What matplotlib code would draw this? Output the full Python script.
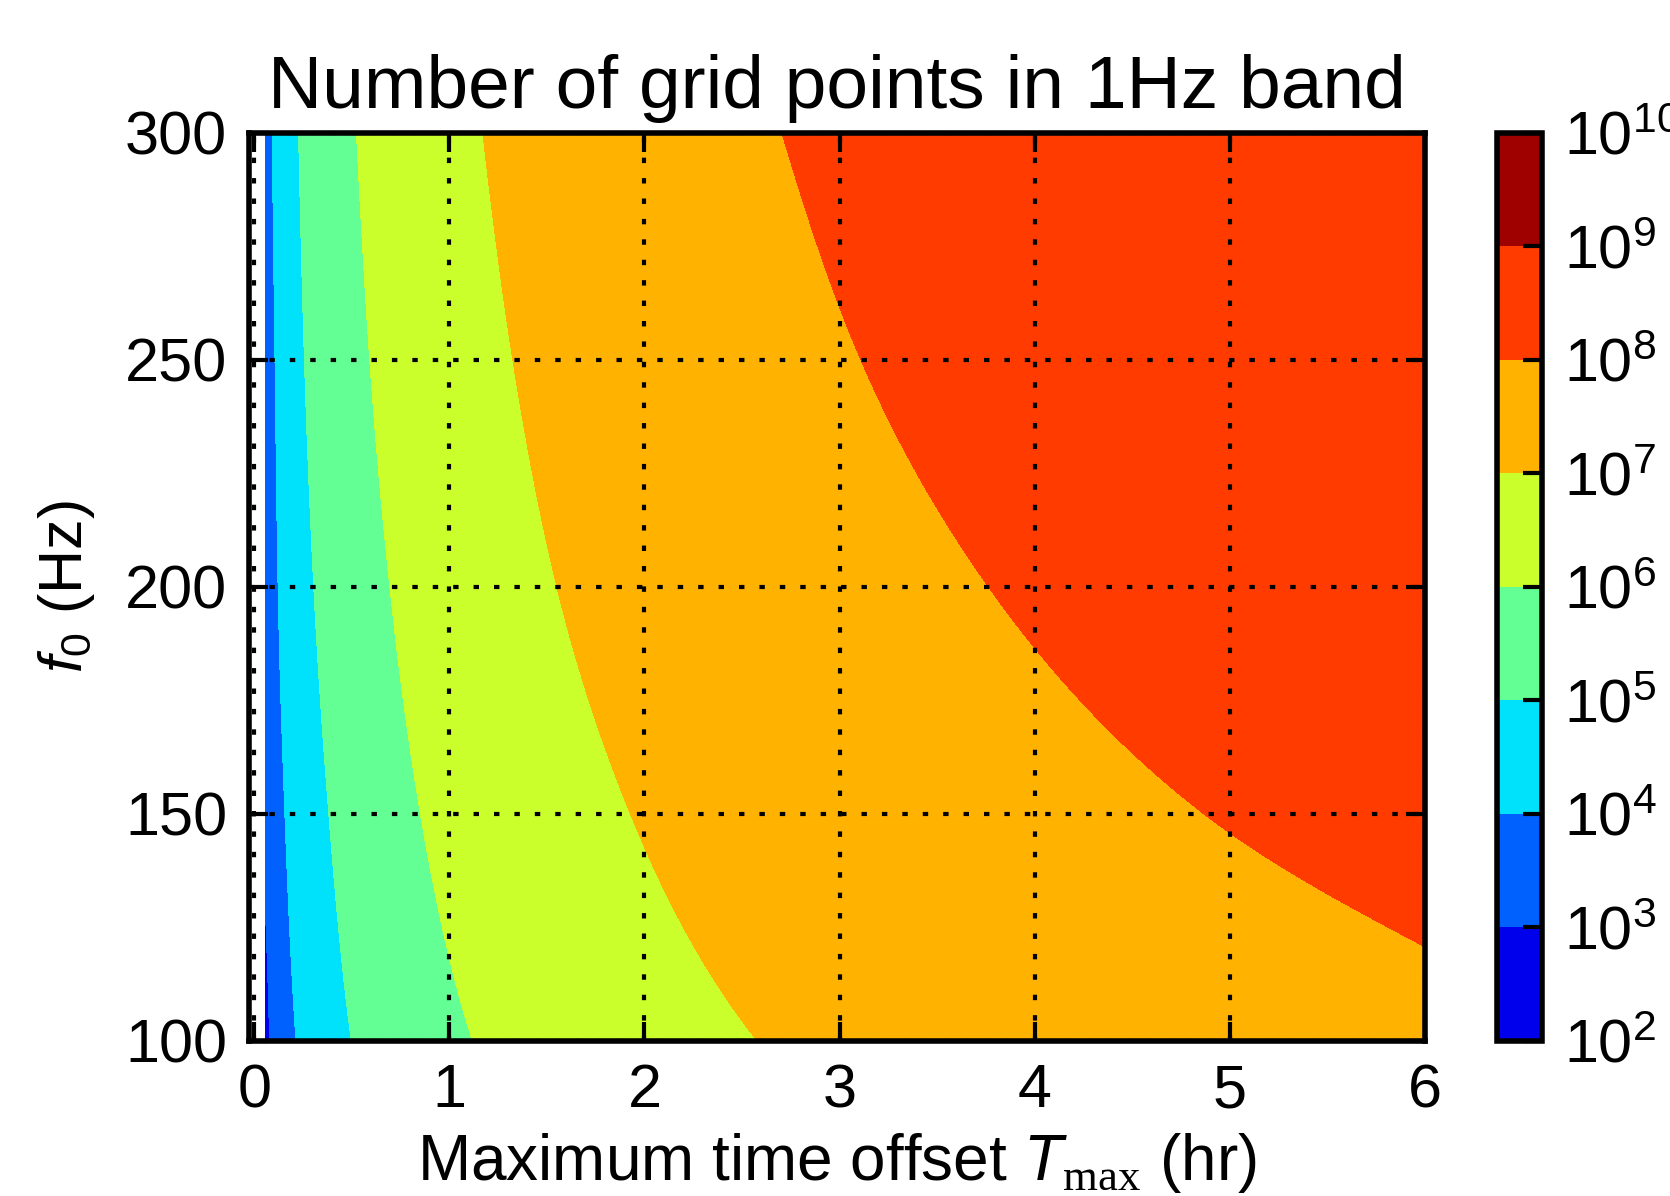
import numpy as np
import matplotlib
matplotlib.use('Agg')
import matplotlib.pyplot as plt

# ---- data ----------------------------------------------------------------
# Tmax (hr) at which log10(N) crosses each contour level, at several f0 (Hz)
T_start = 0.0556   # first computed Tmax (hr)
T_end = 6.0
f_lo, f_hi = 100.0, 300.0

lvl3_f = [100, 116, 130, 150, 200, 250, 300]
lvl3_T = [0.078, 0.067, 0.056, 0.050, 0.041, 0.036, 0.031]
lvl4_f = [100, 150, 200, 250, 300]
lvl4_T = [0.213, 0.156, 0.121, 0.105, 0.091]
lvl5_f = [100, 150, 200, 250, 300]
lvl5_T = [0.497, 0.381, 0.304, 0.256, 0.226]
lvl6_f = [100, 150, 200, 250, 300]
lvl6_T = [1.118, 0.851, 0.694, 0.591, 0.523]
lvl7_f = [100, 150, 200, 250, 300]
lvl7_T = [2.579, 1.928, 1.551, 1.325, 1.171]
lvl8_f = [100, 120.8, 150, 200, 250, 300]
lvl8_T = [7.0, 6.0, 4.87, 3.765, 3.11, 2.705]

crossing_levels = [3, 4, 5, 6, 7, 8]
contour_levels = [2, 3, 4, 5, 6, 7, 8, 9, 10]
cbar_labels = [r'$\mathsf{10^{%d}}$' % k for k in contour_levels]
x_ticks = [0, 1, 2, 3, 4, 5, 6]
y_ticks = [100, 150, 200, 250, 300]

# ---- style ----------------------------------------------------------------
plt.rcParams['font.family'] = ['Liberation Sans', 'DejaVu Sans']
plt.rcParams['mathtext.fontset'] = 'custom'
plt.rcParams['mathtext.it'] = 'Liberation Sans:italic'
plt.rcParams['mathtext.rm'] = 'Liberation Serif'
plt.rcParams['mathtext.sf'] = 'Liberation Sans'


def pchip(x, y, xq):
    """Monotone piecewise-cubic Hermite interpolation (smooth curve through points)."""
    x = np.asarray(x, float)
    y = np.asarray(y, float)
    h = np.diff(x)
    d = np.diff(y) / h
    m = np.zeros_like(y)
    m[0], m[-1] = d[0], d[-1]
    for k in range(1, len(x) - 1):
        if d[k - 1] * d[k] > 0:
            w1 = 2 * h[k] + h[k - 1]
            w2 = h[k] + 2 * h[k - 1]
            m[k] = (w1 + w2) / (w1 / d[k - 1] + w2 / d[k])
    idx = np.clip(np.searchsorted(x, xq) - 1, 0, len(x) - 2)
    t = (xq - x[idx]) / h[idx]
    h00 = 2 * t**3 - 3 * t**2 + 1
    h10 = t**3 - 2 * t**2 + t
    h01 = -2 * t**3 + 3 * t**2
    h11 = t**3 - t**2
    return h00 * y[idx] + h10 * h[idx] * m[idx] + h01 * y[idx + 1] + h11 * h[idx] * m[idx + 1]


# ---- build field from the crossing tables ----------------------------------
crossings = [(lvl3_f, lvl3_T), (lvl4_f, lvl4_T), (lvl5_f, lvl5_T),
             (lvl6_f, lvl6_T), (lvl7_f, lvl7_T), (lvl8_f, lvl8_T)]
f_grid = np.linspace(f_lo, f_hi, 401)
T_grid = np.linspace(T_start, T_end, 1200)
logT = np.log(T_grid)
logT_cross = np.array([pchip(np.log(fp), np.log(Tp), np.log(f_grid))
                       for fp, Tp in crossings])
yk = np.array(crossing_levels, dtype=float)
Z = np.empty((f_grid.size, T_grid.size))
for i in range(f_grid.size):
    xk = logT_cross[:, i]
    z = np.interp(logT, xk, yk)
    lo = logT < xk[0]
    z[lo] = yk[0] + (logT[lo] - xk[0]) * (yk[1] - yk[0]) / (xk[1] - xk[0])
    hi = logT > xk[-1]
    z[hi] = yk[-1] + (logT[hi] - xk[-1]) * (yk[-1] - yk[-2]) / (xk[-1] - xk[-2])
    Z[i] = z

colors = plt.cm.jet((np.arange(8) + 0.75) / 8.0)

# ---- figure ----------------------------------------------------------------
fig = plt.figure(figsize=(8.35, 5.98), dpi=200)
ax = fig.add_axes([0.1494, 0.1296, 0.7036, 0.7592])
cax = fig.add_axes([0.8964, 0.1296, 0.027, 0.7592])

cs = ax.contourf(T_grid, f_grid, Z, levels=contour_levels, colors=colors)
ax.set_xlim(-0.0256, 6)
ax.set_ylim(100, 300)
ax.set_xticks(x_ticks)
ax.set_yticks(y_ticks)
ax.grid(True, color='k', linestyle=(0, (1.3, 3.6)), linewidth=1.5)
ax.tick_params(direction='in', length=7, width=1.5, top=True, right=True,
               labelsize=22, pad=8)
for sp in ax.spines.values():
    sp.set_linewidth(2)
ax.set_title('Number of grid points in 1Hz band', fontsize=27, pad=9)
ax.set_xlabel(r'Maximum time offset $T_{\rm max}$ (hr)', fontsize=23, labelpad=4)
ax.set_ylabel(r'$f_\mathsf{0}$ (Hz)', fontsize=22, labelpad=10)

cb = fig.colorbar(cs, cax=cax, ticks=contour_levels)
cb.set_ticklabels(cbar_labels)
cb.ax.tick_params(direction='in', length=7, width=1.5, labelsize=22, pad=8,
                  color='k')
cb.outline.set_linewidth(2)

fig.savefig('out.png', dpi=200)
